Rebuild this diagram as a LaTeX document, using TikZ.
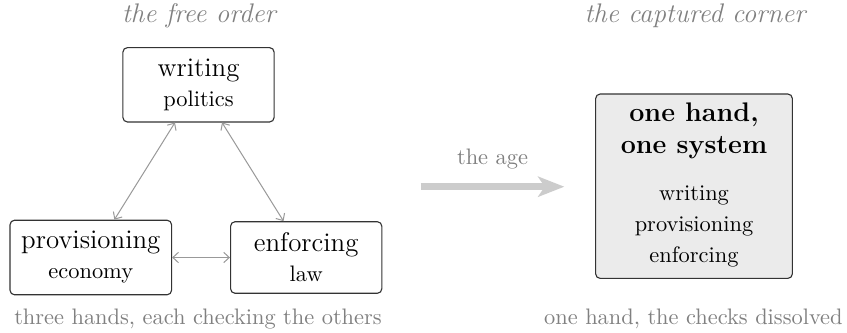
\documentclass[tikz,border=0pt]{standalone}
\usetikzlibrary{arrows.meta}
\begin{document}
\begin{tikzpicture}[x=0.4464pt,y=-0.4464pt,
  hand/.style={draw=black!80, line width=0.5pt, rounded corners=2pt, align=center,
    minimum width=67.5pt, inner xsep=5pt, inner ysep=5pt, font=\normalsize},
  bigbox/.style={draw=black!80, fill=black!8, line width=0.5pt, rounded corners=2pt,
    minimum width=87.8pt, minimum height=82.3pt, inner sep=0pt},
  check/.style={draw=black!40, line width=0.45pt,
    {Straight Barb[length=2.5pt,width=4.6pt]}-{Straight Barb[length=2.5pt,width=4.6pt]}},
  caption/.style={text=black!50, anchor=base, font=\normalsize},
  head/.style={text=black!50, anchor=base, font=\large\itshape},
  inner/.style={anchor=base, inner sep=0pt},
  age/.style={draw=black!20, line width=3pt, -{Stealth[length=11.7pt,width=9pt,inset=3pt]}}
]
\useasboundingbox (0,0) rectangle (847,332);
% headings
\node[head] (h1) at (199,22.7) {the free order};
\node[head] (h2) at (695,22.7) {the captured corner};
% the free order
\node[hand] (w) at (198.5,84.8) {{\large writing}\\[1.4pt] politics};
\node[hand] (p) at (90.8,257.5) {{\large provisioning}\\[1.4pt] economy};
\node[hand] (e) at (306.2,257.5) {{\large enforcing}\\[1.4pt] law};
\draw[check] (w) -- (p);
\draw[check] (w) -- (e);
\draw[check] (p) -- (e);
\node[caption] (c1) at (198,324.3) {three hands, each checking the others};
% the age
\coordinate (a1) at (420.7,186.7);
\coordinate (a2) at (564.3,186.7);
\draw[age] (a1) -- (a2);
\node[caption] (ag) at (492.5,164) {the age};
% the captured corner
\node[bigbox] (cap) at (694,186.2) {};
\node[inner, font=\large\bfseries] (t1) at (694,121.7) {one hand,};
\node[inner, font=\large\bfseries] (t2) at (694,153.3) {one system};
\node[inner] (l1) at (694,200) {writing};
\node[inner] (l2) at (694,231.7) {provisioning};
\node[inner] (l3) at (694,262.7) {enforcing};
\node[caption] (c2) at (693.4,324.3) {one hand, the checks dissolved};
\end{tikzpicture}
\end{document}
